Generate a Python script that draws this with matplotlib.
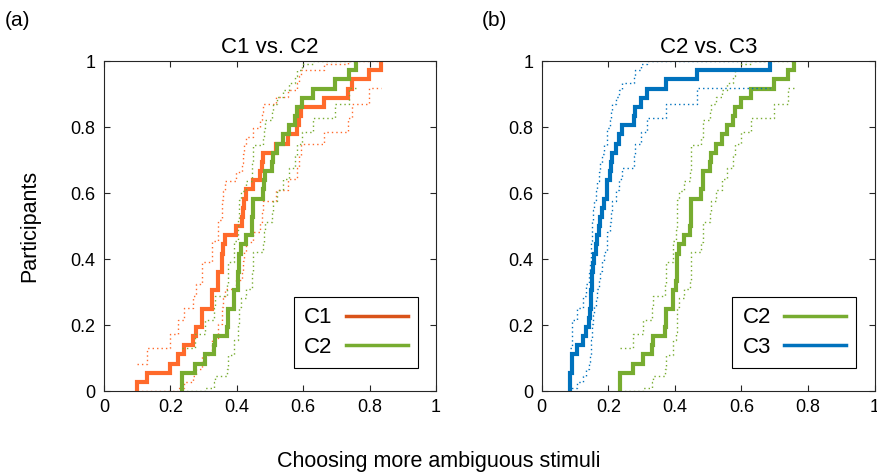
import numpy as np
import matplotlib
matplotlib.use("Agg")
import matplotlib.pyplot as plt
from matplotlib.lines import Line2D

plt.rcParams['font.family'] = ['Liberation Sans', 'DejaVu Sans']

# proportion of ambiguous choices per participant
c1 = [0.100, 0.131, 0.198, 0.224, 0.241, 0.267, 0.276, 0.296, 0.296, 0.325,
      0.325, 0.342, 0.342, 0.355, 0.356, 0.358, 0.363, 0.398, 0.415, 0.420,
      0.422, 0.428, 0.448, 0.470, 0.475, 0.478, 0.517, 0.553, 0.580, 0.586,
      0.592, 0.664, 0.736, 0.746, 0.797, 0.835]
c2 = [0.235, 0.235, 0.273, 0.303, 0.330, 0.333, 0.370, 0.373, 0.373, 0.393,
      0.393, 0.404, 0.405, 0.406, 0.406, 0.413, 0.428, 0.445, 0.447, 0.448,
      0.448, 0.478, 0.483, 0.485, 0.506, 0.508, 0.522, 0.540, 0.557, 0.574,
      0.580, 0.597, 0.629, 0.697, 0.739, 0.759]
c3 = [0.085, 0.085, 0.090, 0.092, 0.105, 0.123, 0.133, 0.142, 0.146, 0.148,
      0.148, 0.150, 0.152, 0.155, 0.156, 0.163, 0.166, 0.173, 0.175, 0.180,
      0.187, 0.195, 0.196, 0.206, 0.208, 0.210, 0.222, 0.232, 0.240, 0.276,
      0.280, 0.297, 0.315, 0.373, 0.465, 0.686]

ticks = [0, 0.2, 0.4, 0.6, 0.8, 1]
tick_labels = ['0', '0.2', '0.4', '0.6', '0.8', '1']

colors = {'C1': '#FF6A2B', 'C2': '#77AC30', 'C3': '#0072BD'}
legend_colors = {'C1': '#D95319', 'C2': '#77AC30', 'C3': '#0072BD'}


def ecdf(samples, z=1.96):
    s = np.sort(np.asarray(samples, dtype=float))
    n = len(s)
    xs, counts = np.unique(s, return_counts=True)
    F = np.cumsum(counts) / n
    se = np.sqrt(F * (1 - F) / n)          # greenwood, no censoring
    lo = np.clip(F - z * se, 0, 1)
    hi = np.clip(F + z * se, 0, 1)
    lo[-1] = np.nan
    hi[-1] = np.nan
    x = np.r_[xs[0], xs]
    return x, np.r_[0, F], np.r_[np.nan, lo], np.r_[np.nan, hi]


def draw(ax, data, names, title):
    for vals, name in zip(data, names):
        x, f, lo, hi = ecdf(vals)
        col = colors[name]
        ax.step(x, lo, where='post', color=col, lw=1.0, dashes=(1, 2.2))
        ax.step(x, hi, where='post', color=col, lw=1.0, dashes=(1, 2.2))
        ax.step(x, f, where='post', color=col, lw=3.0, solid_joinstyle='miter')
    ax.set_xlim(0, 1)
    ax.set_ylim(0, 1)
    ax.set_xticks(ticks)
    ax.set_xticklabels(tick_labels)
    ax.set_yticks(ticks)
    ax.set_yticklabels(tick_labels)
    ax.tick_params(direction='in', length=4, width=0.8, top=True, right=True,
                   labelsize=13, colors='#262626', labelcolor='black', pad=6)
    for sp in ax.spines.values():
        sp.set_linewidth(0.8)
        sp.set_color('#262626')
    ax.set_title(title, fontsize=16, pad=6)
    handles = [Line2D([], [], color=legend_colors[n], lw=2.5) for n in names]
    leg = ax.legend(handles, names, loc='lower right', bbox_to_anchor=(0.945, 0.069),
                    markerfirst=False, fontsize=16, fancybox=False, framealpha=1,
                    edgecolor='black', handlelength=2.8, borderpad=0.45,
                    labelspacing=0.4, handletextpad=0.6, borderaxespad=0)
    leg.get_frame().set_linewidth(0.8)


fig = plt.figure(figsize=(8.78, 4.76), dpi=100)
ax1 = fig.add_axes([104 / 878, 85 / 476, 332 / 878, 330 / 476])
ax2 = fig.add_axes([541.7 / 878, 85 / 476, 333 / 878, 330 / 476])

draw(ax1, [c1, c2], ['C1', 'C2'], 'C1 vs. C2')
draw(ax2, [c2, c3], ['C2', 'C3'], 'C2 vs. C3')

ax1.set_ylabel('Participants', fontsize=15.5, labelpad=22)
fig.text(0.5, 0.03, 'Choosing more ambiguous stimuli', ha='center', va='center', fontsize=15.5)
fig.text(5 / 878, 1 - 20 / 476, '(a)', fontsize=15, va='center')
fig.text(482 / 878, 1 - 20 / 476, '(b)', fontsize=15, va='center')

fig.savefig('out.png', dpi=100)
